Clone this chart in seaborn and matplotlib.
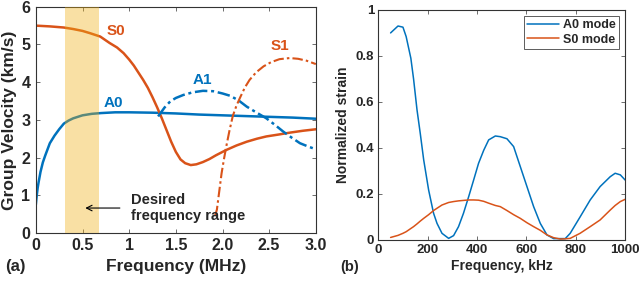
import seaborn as sns
import matplotlib.pyplot as plt
import pandas as pd

# dispersion curves, panel (a)
a0_freq = [0, 0.005, 0.01, 0.02, 0.03, 0.05, 0.075, 0.1, 0.15, 0.2, 0.25, 0.3, 0.35, 0.4,
           0.5, 0.6, 0.7, 0.85, 1.0, 1.25, 1.5, 1.75, 2.0, 2.25, 2.5, 2.75, 3.0]
a0_vel = [0.75, 0.88, 1.0, 1.2, 1.35, 1.62, 1.87, 2.05, 2.38, 2.58, 2.75, 2.9, 2.98, 3.04,
          3.12, 3.16, 3.18, 3.2, 3.2, 3.19, 3.17, 3.14, 3.12, 3.1, 3.08, 3.06, 3.03]
s0_freq = [0, 0.15, 0.3, 0.4, 0.5, 0.58, 0.69, 0.79, 0.87, 0.94, 1.0, 1.05, 1.1, 1.15, 1.2,
           1.25, 1.3, 1.35, 1.4, 1.45, 1.5, 1.55, 1.6, 1.66, 1.72, 1.79, 1.86, 1.93, 2.04,
           2.15, 2.26, 2.37, 2.47, 2.6, 2.72, 2.86, 3.0]
s0_vel = [5.5, 5.48, 5.45, 5.41, 5.36, 5.3, 5.21, 5.04, 4.92, 4.77, 4.6, 4.44, 4.25, 4.06,
          3.85, 3.6, 3.33, 3.04, 2.73, 2.42, 2.15, 1.95, 1.85, 1.8, 1.82, 1.88, 1.96, 2.06,
          2.2, 2.32, 2.42, 2.5, 2.56, 2.61, 2.66, 2.71, 2.75]
a1_freq = [1.31, 1.38, 1.44, 1.5, 1.58, 1.68, 1.79, 1.9, 2.0, 2.08, 2.17, 2.26, 2.36, 2.47,
           2.56, 2.65, 2.74, 2.83, 2.92, 3.0]
a1_vel = [3.09, 3.33, 3.49, 3.58, 3.66, 3.73, 3.77, 3.76, 3.7, 3.64, 3.52, 3.35, 3.2, 3.04,
          2.87, 2.69, 2.53, 2.38, 2.29, 2.22]
s1_freq = [1.92, 1.94, 1.965, 1.99, 2.015, 2.04, 2.075, 2.11, 2.15, 2.19, 2.24, 2.29, 2.36,
           2.44, 2.52, 2.61, 2.72, 2.81, 2.9, 3.0]
s1_vel = [0.45, 0.62, 1.1, 1.58, 1.95, 2.29, 2.72, 3.1, 3.38, 3.6, 3.86, 4.06, 4.26,
          4.42, 4.53, 4.61, 4.64, 4.62, 4.57, 4.48]

# normalized strain, panel (b)
strain_freq = [50, 80, 100, 113, 132, 143, 157, 170, 184, 204, 224, 238, 258, 285, 305, 325,
               345, 366, 386, 406, 427, 447, 474, 494, 521, 548, 575, 602, 629, 656, 683,
               710, 737, 757, 777, 817, 858, 898, 939, 959, 980, 1000]
a0_strain = [0.9, 0.93, 0.925, 0.884, 0.79, 0.70, 0.565, 0.464, 0.348, 0.217, 0.116, 0.072,
             0.029, 0.007, 0.019, 0.058, 0.116, 0.188, 0.26, 0.333, 0.39, 0.435, 0.452,
             0.449, 0.44, 0.406, 0.319, 0.232, 0.145, 0.072, 0.022, 0.006, 0.006, 0.006,
             0.029, 0.10, 0.174, 0.232, 0.275, 0.29, 0.283, 0.26]
s0_strain = [0.011, 0.02, 0.029, 0.036, 0.05, 0.058, 0.07, 0.082, 0.094, 0.11, 0.128, 0.138,
             0.152, 0.163, 0.167, 0.17, 0.172, 0.174, 0.174, 0.173, 0.168, 0.16, 0.15,
             0.145, 0.128, 0.11, 0.094, 0.075, 0.058, 0.042, 0.022, 0.01, 0.004, 0.005,
             0.007, 0.029, 0.058, 0.087, 0.13, 0.15, 0.167, 0.177]

band = (0.31, 0.68)

BLUE = "#0072BD"
ORANGE = "#D95319"
GREY = "#262626"

sns.set_style("ticks")
plt.rcParams["font.family"] = ["Liberation Sans", "DejaVu Sans"]
plt.rcParams["font.weight"] = "bold"
plt.rcParams["axes.labelweight"] = "bold"

fig = plt.figure(figsize=(6.4, 2.83), dpi=100)
ax1 = fig.add_axes([0.056, 0.177, 0.4375, 0.799])
ax2 = fig.add_axes([0.591, 0.152, 0.386, 0.813])

# ---- (a) group velocity
dashdot = (0, (5, 1.5, 1.2, 1.5))
sns.lineplot(x=a0_freq, y=a0_vel, ax=ax1, color=BLUE, lw=1.8, sort=False)
sns.lineplot(x=s0_freq, y=s0_vel, ax=ax1, color=ORANGE, lw=1.8, sort=False)
sns.lineplot(x=a1_freq, y=a1_vel, ax=ax1, color=BLUE, lw=1.8, sort=False, linestyle=dashdot)
sns.lineplot(x=s1_freq, y=s1_vel, ax=ax1, color=ORANGE, lw=1.5, sort=False, linestyle=dashdot)
ax1.axvspan(*band, color="#F0B011", alpha=0.38, lw=0, zorder=3)

ax1.text(0.86, 5.37, "S0", color=ORANGE, fontsize=11, ha="center", va="center")
ax1.text(0.83, 3.45, "A0", color=BLUE, fontsize=11, ha="center", va="center")
ax1.text(1.78, 4.07, "A1", color=BLUE, fontsize=11, ha="center", va="center")
ax1.text(2.61, 4.96, "S1", color=ORANGE, fontsize=11, ha="center", va="center")
ax1.text(1.02, 0.88, "Desired", fontsize=10.5, ha="left", va="center")
ax1.text(1.02, 0.44, "frequency range", fontsize=10.5, ha="left", va="center")
ax1.annotate("", xy=(0.5, 0.66), xytext=(0.93, 0.66),
             arrowprops=dict(arrowstyle="->", color="black", lw=0.8))

ax1.set_xlim(0, 3)
ax1.set_ylim(0, 6)
ax1.set_xticks([0, 0.5, 1, 1.5, 2, 2.5, 3])
ax1.set_xticklabels(["0", "0.5", "1", "1.5", "2.0", "2.5", "3.0"])
ax1.set_yticks(range(7))
ax1.set_xlabel("Frequency (MHz)", fontsize=12.5, labelpad=4)
ax1.set_ylabel("Group Velocity (km/s)", fontsize=12.5, labelpad=3)
ax1.tick_params(direction="in", top=True, right=True, labelsize=11.5, length=3,
                pad=4, width=0.6, color="#555555")
for s in ax1.spines.values():
    s.set_linewidth(0.8)
    s.set_color("#333333")

# ---- (b) normalized strain
df = pd.DataFrame({"freq": strain_freq * 2,
                   "strain": a0_strain + s0_strain,
                   "mode": ["A0 mode"] * len(strain_freq) + ["S0 mode"] * len(strain_freq)})
sns.lineplot(data=df, x="freq", y="strain", hue="mode", ax=ax2,
             palette=[BLUE, ORANGE], lw=1.1)
ax2.set_xlim(0, 1000)
ax2.set_ylim(0, 1)
ax2.set_xticks(range(0, 1001, 200))
ax2.set_yticks([0, 0.2, 0.4, 0.6, 0.8, 1])
ax2.set_yticklabels(["0", "0.2", "0.4", "0.6", "0.8", "1"])
ax2.set_xlabel("Frequency, kHz", fontsize=10, color=GREY, labelpad=2)
ax2.set_ylabel("Normalized strain", fontsize=10, color=GREY, labelpad=4)
ax2.tick_params(direction="in", top=True, right=True, labelsize=9.5, length=3,
                pad=3, width=0.6, color="#555555", labelcolor=GREY)
for s in ax2.spines.values():
    s.set_linewidth(0.8)
    s.set_color("#333333")
leg = ax2.legend(loc="upper right", fontsize=9, frameon=True, fancybox=False,
                 handlelength=2.6, handletextpad=0.3, borderpad=0.25,
                 labelspacing=0.2, borderaxespad=0.5)
leg.get_frame().set_edgecolor("#333333")
leg.get_frame().set_linewidth(0.7)
for t in leg.get_texts():
    t.set_color(GREY)
    t.set_fontweight("bold")

for ax in (ax1, ax2):
    for lab in ax.get_xticklabels() + ax.get_yticklabels():
        lab.set_fontweight("bold")

fig.text(0.008, 0.057, "(a)", fontsize=12, ha="left", va="center")
fig.text(0.531, 0.057, "(b)", fontsize=10.5, ha="left", va="center", color=GREY)

fig.savefig("out.png", dpi=100)
